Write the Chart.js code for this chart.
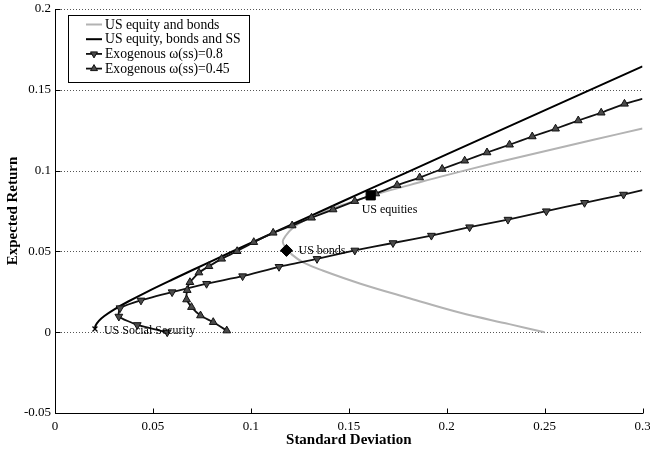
<!DOCTYPE html>
<html>
<head>
<meta charset="utf-8">
<script src="https://cdn.jsdelivr.net/npm/chart.js@4.4.1/dist/chart.umd.min.js"></script>
<style>
  html, body { margin: 0; padding: 0; background: #fff; }
</style>
</head>
<body>
<canvas id="myChart" width="650" height="452"></canvas>
<script>
const FONT = "'Liberation Serif', 'Times New Roman', serif";

const xTicks = [0, 0.05, 0.1, 0.15, 0.2, 0.25, 0.3];
const xTickLabels = ['0', '0.05', '0.1', '0.15', '0.2', '0.25', '0.3'];
const yTicks = [-0.05, 0, 0.05, 0.1, 0.15, 0.2];
const yTickLabels = ['-0.05', '0', '0.05', '0.1', '0.15', '0.2'];

const seriesNames = [
  'US equity and bonds',
  'US equity, bonds and SS',
  'Exogenous \u03c9(ss)=0.8',
  'Exogenous \u03c9(ss)=0.45'
];

// frontier: equities + bonds
const eqBondSigma = [0.25, 0.232, 0.207, 0.181, 0.156, 0.137, 0.127, 0.121, 0.118, 0.1163, 0.118, 0.121, 0.127, 0.138, 0.150, 0.163, 0.181, 0.200, 0.225, 0.250, 0.275, 0.300];
const eqBondMu    = [0.0, 0.005, 0.012, 0.021, 0.030, 0.038, 0.043, 0.048, 0.052, 0.056, 0.060, 0.064, 0.069, 0.075, 0.080, 0.085, 0.091, 0.0972, 0.1048, 0.112, 0.1191, 0.126];

// frontier: equities + bonds + social security
const ssSigma = [0.0204, 0.0207, 0.0224, 0.0252, 0.0301, 0.0374, 0.047, 0.060, 0.080, 0.100, 0.130, 0.160, 0.200, 0.250, 0.300];
const ssMu    = [0.002, 0.004, 0.007, 0.010, 0.014, 0.019, 0.025, 0.0326, 0.044, 0.0552, 0.0717, 0.0882, 0.110, 0.1373, 0.1645];

// exogenous SS weight 0.8
const w80Sigma = [0.0573, 0.0420, 0.0326, 0.0332, 0.0439, 0.0598, 0.0774, 0.0958, 0.1144, 0.1338, 0.1531, 0.1726, 0.1922, 0.2117, 0.2313, 0.2509, 0.2704, 0.2903, 0.3];
const w80Mu    = [0.0, 0.0045, 0.0097, 0.0149, 0.0197, 0.0248, 0.0300, 0.0347, 0.0405, 0.0454, 0.0506, 0.0552, 0.0598, 0.0650, 0.0697, 0.0749, 0.0801, 0.0852, 0.0879];

// exogenous SS weight 0.45
const w45Sigma = [0.0877, 0.0808, 0.0743, 0.0697, 0.0672, 0.0675, 0.0689, 0.0735, 0.0786, 0.0851, 0.0930, 0.1015, 0.1114, 0.1211, 0.1310, 0.1420, 0.1531, 0.1638, 0.1747, 0.1862, 0.1977, 0.2092, 0.2206, 0.2321, 0.2437, 0.2556, 0.2672, 0.2789, 0.2908, 0.3];
const w45Mu    = [0.001, 0.0062, 0.0103, 0.0155, 0.0202, 0.0260, 0.0309, 0.0369, 0.0408, 0.0454, 0.0501, 0.0557, 0.0615, 0.0660, 0.0708, 0.0759, 0.0811, 0.0858, 0.0910, 0.0957, 0.1010, 0.1061, 0.1112, 0.1160, 0.1211, 0.1259, 0.1310, 0.1358, 0.1413, 0.1444];

// single assets
const assetNames = ['US Social Security', 'US bonds', 'US equities'];
const assetSigma = [0.0204, 0.1182, 0.1612];
const assetMu    = [0.002, 0.0506, 0.0847];

function pts(xs, ys) {
  return xs.map((v, i) => ({x: v, y: ys[i]}));
}
// no marker on the last point (it is only where the line leaves the plot)
function radii(n, r) {
  return Array.from({length: n}, (_, i) => i === n - 1 ? 0 : r);
}

const assetStyle = {
  pointStyle: ['crossRot', 'rectRot', 'rect'],
  radius: [3.5, 6, 6.5],
  labelDx: [9, 12, -9],
  labelDy: [2, 0.5, 15]
};

const plotFrame = {
  id: 'plotFrame',
  beforeDatasetsDraw(chart) {
    const {ctx, chartArea: a, scales: {x, y}} = chart;
    ctx.save();
    ctx.lineWidth = 1;
    ctx.strokeStyle = '#555';
    ctx.setLineDash([1, 2]);
    yTicks.forEach(v => {
      const py = Math.round(y.getPixelForValue(v)) + 0.5;
      ctx.beginPath();
      ctx.moveTo(a.left, py);
      ctx.lineTo(a.right, py);
      ctx.stroke();
    });
    ctx.setLineDash([]);
    ctx.strokeStyle = '#000';
    const bx = Math.round(a.left) + 0.5;
    const by = Math.round(a.bottom) + 0.5;
    ctx.beginPath();
    ctx.moveTo(bx, Math.round(a.top));
    ctx.lineTo(bx, by);
    ctx.lineTo(Math.round(a.right), by);
    ctx.stroke();
    // inward tick marks
    ctx.beginPath();
    xTicks.forEach(v => {
      const px = Math.round(x.getPixelForValue(v)) + 0.5;
      ctx.moveTo(px, by);
      ctx.lineTo(px, by - 5);
    });
    yTicks.forEach(v => {
      const py = Math.round(y.getPixelForValue(v)) + 0.5;
      ctx.moveTo(bx, py);
      ctx.lineTo(bx + 5, py);
    });
    ctx.stroke();
    ctx.restore();
  },
  afterDraw(chart) {
    const {ctx, chartArea: a, scales: {x, y}} = chart;
    ctx.save();

    // asset labels
    ctx.fillStyle = '#000';
    ctx.font = '12px ' + FONT;
    ctx.textBaseline = 'middle';
    ctx.textAlign = 'left';
    assetNames.forEach((name, i) => {
      const px = x.getPixelForValue(assetSigma[i]) + assetStyle.labelDx[i];
      const py = y.getPixelForValue(assetMu[i]) + assetStyle.labelDy[i];
      ctx.fillText(name, px, py);
    });

    // axis titles
    ctx.font = 'bold 15px ' + FONT;
    ctx.textAlign = 'center';
    ctx.fillText('Standard Deviation', (a.left + a.right) / 2, 440);
    ctx.save();
    ctx.translate(13, (a.top + a.bottom) / 2);
    ctx.rotate(-Math.PI / 2);
    ctx.fillText('Expected Return', 0, 0);
    ctx.restore();

    // legend box
    const box = {left: 68.5, top: 15.5, width: 181, height: 67};
    ctx.fillStyle = '#fff';
    ctx.fillRect(box.left, box.top, box.width, box.height);
    ctx.strokeStyle = '#000';
    ctx.lineWidth = 1;
    ctx.strokeRect(box.left, box.top, box.width, box.height);
    ctx.font = '13.7px ' + FONT;
    ctx.textAlign = 'left';
    chart.data.datasets.slice(0, 4).forEach((ds, i) => {
      const ly = 24.5 + i * 14.7;
      ctx.strokeStyle = ds.borderColor;
      ctx.lineWidth = ds.borderWidth;
      ctx.beginPath();
      ctx.moveTo(86, ly);
      ctx.lineTo(102, ly);
      ctx.stroke();
      if (ds.pointStyle === 'triangle') {
        const r = 4;
        const cx = 94;
        const dir = ds.pointRotation === 180 ? 1 : -1;
        ctx.beginPath();
        ctx.moveTo(cx, ly + dir * r);
        ctx.lineTo(cx - r * 0.87, ly - dir * r * 0.5);
        ctx.lineTo(cx + r * 0.87, ly - dir * r * 0.5);
        ctx.closePath();
        ctx.fillStyle = ds.pointBackgroundColor;
        ctx.fill();
        ctx.lineWidth = 1;
        ctx.strokeStyle = ds.pointBorderColor;
        ctx.stroke();
      }
      ctx.fillStyle = '#000';
      ctx.fillText(ds.label, 105, ly + 0.5);
    });
    ctx.restore();
  }
};

const triangle = {
  pointStyle: 'triangle',
  pointBackgroundColor: '#4a4a4a',
  pointBorderColor: '#111',
  pointBorderWidth: 1,
  borderColor: '#111',
  borderWidth: 1.8,
  showLine: true,
  tension: 0.15
};

const data = {
  datasets: [
    {
      label: seriesNames[0],
      data: pts(eqBondSigma, eqBondMu),
      borderColor: '#b3b3b3',
      borderWidth: 2,
      showLine: true,
      tension: 0.4,
      pointRadius: 0,
      order: 4
    },
    {
      label: seriesNames[1],
      data: pts(ssSigma, ssMu),
      borderColor: '#000',
      borderWidth: 2,
      showLine: true,
      tension: 0.4,
      pointRadius: 0,
      order: 3
    },
    Object.assign({
      label: seriesNames[2],
      data: pts(w80Sigma, w80Mu),
      pointRotation: 180,
      pointRadius: radii(w80Sigma.length, 4.5),
      order: 2
    }, triangle),
    Object.assign({
      label: seriesNames[3],
      data: pts(w45Sigma, w45Mu),
      pointRotation: 0,
      pointRadius: radii(w45Sigma.length, 4.5),
      order: 1
    }, triangle),
    {
      label: 'assets',
      data: pts(assetSigma, assetMu),
      pointStyle: assetStyle.pointStyle,
      pointRadius: assetStyle.radius,
      pointBackgroundColor: '#000',
      pointBorderColor: '#000',
      pointBorderWidth: [1.3, 1, 1],
      showLine: false,
      order: 0
    }
  ]
};

const ctx = document.querySelector('#myChart');

const chart = new Chart(ctx, {
  type: 'scatter',
  data: data,
  options: {
    responsive: false,
    animation: false,
    devicePixelRatio: 1,
    layout: {padding: {top: 9, right: 7, left: 0, bottom: 0}},
    plugins: {
      legend: {display: false},
      tooltip: {enabled: false}
    },
    scales: {
      x: {
        type: 'linear',
        min: 0,
        max: 0.3,
        grid: {display: false, drawTicks: false},
        border: {display: false},
        ticks: {
          color: '#000',
          font: {family: FONT, size: 13},
          padding: 6,
          maxRotation: 0,
          autoSkip: false,
          callback: (v) => xTickLabels[xTicks.indexOf(v)]
        },
        afterBuildTicks: (s) => { s.ticks = xTicks.map(v => ({value: v})); },
        afterFit: (s) => { s.height = 39; s.paddingLeft = 0; s.paddingRight = 0; }
      },
      y: {
        type: 'linear',
        min: -0.05,
        max: 0.2,
        grid: {display: false, drawTicks: false},
        border: {display: false},
        ticks: {
          color: '#000',
          font: {family: FONT, size: 13},
          padding: 4,
          autoSkip: false,
          callback: (v) => yTickLabels[yTicks.indexOf(v)]
        },
        afterBuildTicks: (s) => { s.ticks = yTicks.map(v => ({value: v})); },
        afterFit: (s) => { s.width = 55; s.paddingTop = 0; s.paddingBottom = 0; }
      }
    }
  },
  plugins: [plotFrame]
});
</script>
</body>
</html>
